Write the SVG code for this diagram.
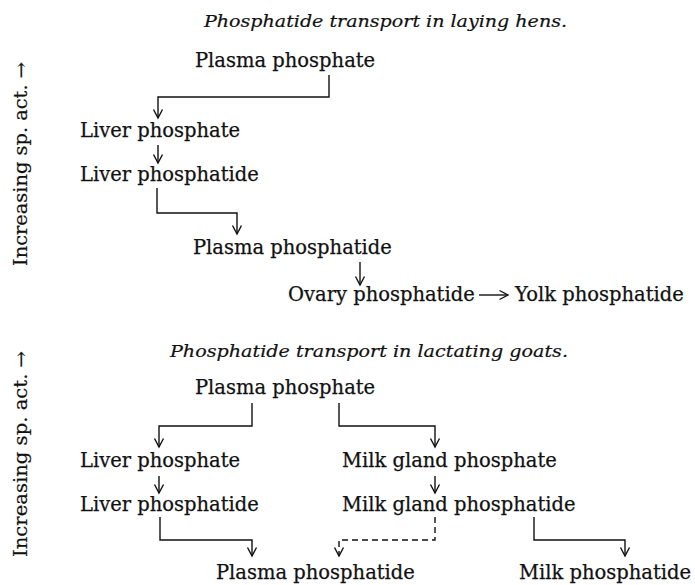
<svg xmlns="http://www.w3.org/2000/svg" width="695" height="585" viewBox="0 0 695 585">
<defs>
<style>
.t{font-family:"DejaVu Serif","Liberation Serif",serif;font-size:19.5px;fill:#111;stroke:#111;stroke-width:0.25}
.ti{font-family:"DejaVu Serif","Liberation Serif",serif;font-style:italic;font-size:17.5px;fill:#111;stroke:#111;stroke-width:0.2}
.side{font-family:"DejaVu Serif","Liberation Serif",serif;font-size:18px;fill:#111;stroke:#111;stroke-width:0.2}
.c{fill:none;stroke:#111;stroke-width:1.4}
.d{stroke-dasharray:6,4}
</style>
<marker id="ah" markerUnits="userSpaceOnUse" markerWidth="14" markerHeight="14" viewBox="-10 -7 14 14" refX="0" refY="0" orient="auto">
<path d="M-8.5,-4.5 L0,0 L-8.5,4.5" fill="none" stroke="#111" stroke-width="1.4"/>
</marker>
</defs>
<rect width="695" height="585" fill="#fff"/>

<text class="ti" x="204" y="27" textLength="363" lengthAdjust="spacingAndGlyphs">Phosphatide transport in laying hens.</text>
<text class="side" transform="translate(27,266) rotate(-90)" textLength="204" lengthAdjust="spacingAndGlyphs">Increasing sp. act. →</text>

<g id="h-plasma-phosphate"><text class="t" x="195" y="67">Plasma phosphate</text></g>
<g id="h-liver-phosphate"><text class="t" x="80" y="137">Liver phosphate</text></g>
<g id="h-liver-phosphatide"><text class="t" x="80" y="181">Liver phosphatide</text></g>
<g id="h-plasma-phosphatide"><text class="t" x="193" y="254">Plasma phosphatide</text></g>
<g id="h-ovary-phosphatide"><text class="t" x="288" y="301">Ovary phosphatide</text></g>
<g id="h-yolk-phosphatide"><text class="t" x="515" y="301">Yolk phosphatide</text></g>

<text class="ti" x="170" y="357" textLength="398" lengthAdjust="spacingAndGlyphs">Phosphatide transport in lactating goats.</text>
<text class="side" transform="translate(27,557) rotate(-90)" textLength="206" lengthAdjust="spacingAndGlyphs">Increasing sp. act. →</text>

<g id="g-plasma-phosphate"><text class="t" x="195" y="394">Plasma phosphate</text></g>
<g id="g-liver-phosphate"><text class="t" x="80" y="467">Liver phosphate</text></g>
<g id="g-milk-gland-phosphate"><text class="t" x="342" y="467">Milk gland phosphate</text></g>
<g id="g-liver-phosphatide"><text class="t" x="80" y="511">Liver phosphatide</text></g>
<g id="g-milk-gland-phosphatide"><text class="t" x="342" y="511">Milk gland phosphatide</text></g>
<g id="g-plasma-phosphatide"><text class="t" x="216" y="579">Plasma phosphatide</text></g>
<g id="g-milk-phosphatide"><text class="t" x="519" y="579">Milk phosphatide</text></g>

<g id="connectors">
<path class="c" d="M329,75 V97 H158 V118" marker-end="url(#ah)"/>
<path class="c" d="M158,145 V163" marker-end="url(#ah)"/>
<path class="c" d="M157,188 V213 H237 V234" marker-end="url(#ah)"/>
<path class="c" d="M360,262 V285" marker-end="url(#ah)"/>
<path class="c" d="M479,295 H508" marker-end="url(#ah)"/>

<path class="c" d="M252,403 V426 H159 V447" marker-end="url(#ah)"/>
<path class="c" d="M339,403 V426 H435 V447" marker-end="url(#ah)"/>
<path class="c" d="M159,476 V493" marker-end="url(#ah)"/>
<path class="c" d="M435,476 V493" marker-end="url(#ah)"/>
<path class="c" d="M160,517 V540 H252 V556" marker-end="url(#ah)"/>
<path class="c d" d="M435,517 V540 H339 V556" marker-end="url(#ah)"/>
<path class="c" d="M534,517 V540 H625 V556" marker-end="url(#ah)"/>
</g>
</svg>
